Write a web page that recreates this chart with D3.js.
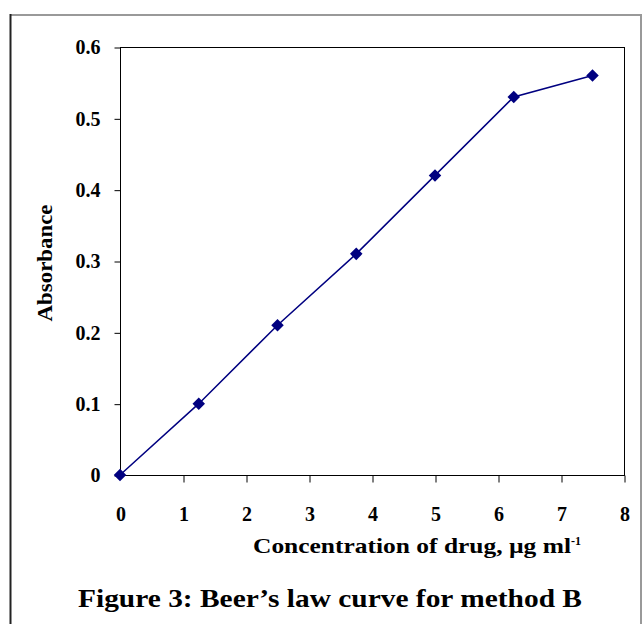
<!DOCTYPE html>
<html>
<head>
<meta charset="utf-8">
<script src="https://cdn.jsdelivr.net/npm/d3@7"></script>
<style>
body { margin: 0; background: #fff; }
text { font-family: "Liberation Serif", "DejaVu Serif", serif; font-weight: bold; fill: #000; }
</style>
</head>
<body>
<script>
// concentration (ug/ml) vs absorbance
var conc = [0, 1.25, 2.5, 3.75, 5, 6.25, 7.5];
var absorb = [0, 0.1, 0.21, 0.31, 0.42, 0.53, 0.56];
var xTicks = [0, 1, 2, 3, 4, 5, 6, 7, 8];
var yTicks = [0, 0.1, 0.2, 0.3, 0.4, 0.5, 0.6];

var svg = d3.select('body').append('svg')
    .attr('width', 644)
    .attr('height', 624);

// outer frame
svg.append('path')
    .attr('d', 'M 11 15 H 641 V 624')
    .attr('fill', 'none')
    .attr('stroke', '#999')
    .attr('stroke-width', 2);
svg.append('path')
    .attr('d', 'M 10.5 624 V 14')
    .attr('fill', 'none')
    .attr('stroke', '#222')
    .attr('stroke-width', 2);

var x = d3.scaleLinear().domain([0, 8]).range([120, 624]);
var y = d3.scaleLinear().domain([0, 0.6]).range([475, 47]);

// plot box
svg.append('rect')
    .attr('x', x(0) + 0.5)
    .attr('y', y(0.6) + 0.5)
    .attr('width', x(8) - x(0))
    .attr('height', y(0) - y(0.6))
    .attr('fill', 'none')
    .attr('stroke', '#000')
    .attr('stroke-width', 1);

var xAxis = svg.append('g')
    .attr('transform', 'translate(0.5,' + (y(0) + 0.5) + ')')
    .call(d3.axisBottom(x).tickValues(xTicks).tickSize(7).tickPadding(24).tickFormat(d3.format('d')));
var yAxis = svg.append('g')
    .attr('transform', 'translate(' + (x(0) + 0.5) + ',0.5)')
    .call(d3.axisLeft(y).tickValues(yTicks).tickSize(6).tickPadding(14)
        .tickFormat(function(d) { return d === 0 ? '0' : d3.format('.1f')(d); }));

[xAxis, yAxis].forEach(function(g) {
    g.select('.domain').remove();
    g.selectAll('line').attr('stroke', '#000');
    g.selectAll('text').style('font-size', '20px')
        .style('font-family', '"Liberation Serif", serif').style('font-weight', 'bold');
});
xAxis.selectAll('.tick').filter(function(d) { return d === 0; }).select('line').remove();

// line + markers
var line = d3.line()
    .x(function(d, i) { return x(conc[i]); })
    .y(function(d) { return y(d); });

svg.append('path')
    .datum(absorb)
    .attr('d', line)
    .attr('fill', 'none')
    .attr('stroke', '#000080')
    .attr('stroke-width', 1.5);

svg.selectAll('.pt')
    .data(absorb)
    .enter().append('path')
    .attr('class', 'pt')
    .attr('d', d3.symbol().type(d3.symbolDiamond2).size(100))
    .attr('transform', function(d, i) { return 'translate(' + x(conc[i]) + ',' + y(d) + ')'; })
    .attr('fill', '#000080');

// titles
var xt = svg.append('text')
    .attr('x', 253)
    .attr('y', 553)
    .style('font-size', '21px');
xt.append('tspan').attr('textLength', 318).attr('lengthAdjust', 'spacingAndGlyphs')
    .text('Concentration of drug, \u00b5g ml');
xt.append('tspan').attr('dy', -8).style('font-size', '12px').text('-1');

svg.append('text')
    .attr('transform', 'translate(52,263) rotate(-90)')
    .attr('text-anchor', 'middle')
    .attr('textLength', 117)
    .attr('lengthAdjust', 'spacingAndGlyphs')
    .style('font-size', '21px')
    .text('Absorbance');

svg.append('text')
    .attr('x', 78)
    .attr('y', 607)
    .attr('textLength', 504)
    .attr('lengthAdjust', 'spacingAndGlyphs')
    .style('font-size', '26px')
    .text('Figure 3: Beer\u2019s law curve for method B');
</script>
</body>
</html>
